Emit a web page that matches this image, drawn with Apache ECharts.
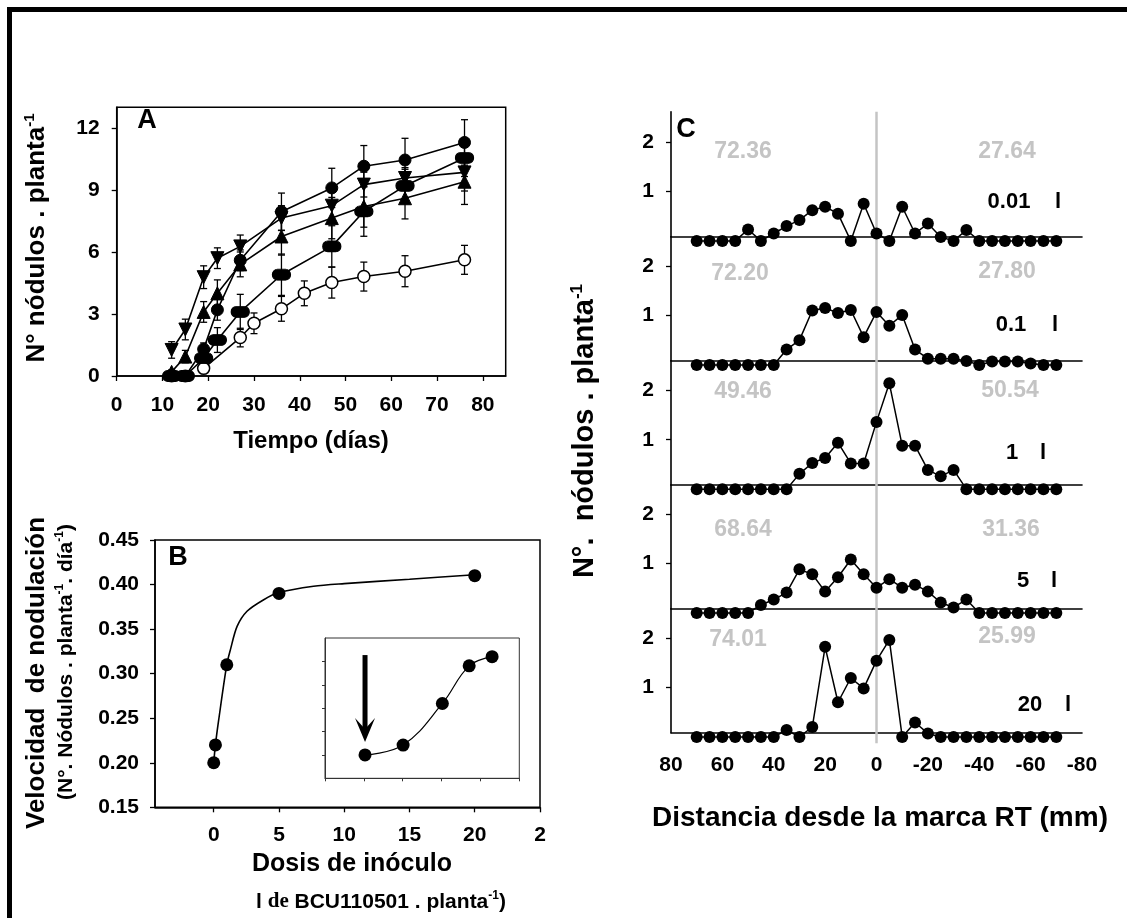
<!DOCTYPE html>
<html>
<head>
<meta charset="utf-8">
<script src="https://cdn.jsdelivr.net/npm/echarts@6/dist/echarts.min.js"></script>
<style>
html, body { margin: 0; padding: 0; background: #fff; }
#chart { width: 1127px; height: 918px; }
</style>
</head>
<body>
<div id="chart"></div>
<script>
// ---- Panel A: nódulos por planta en el tiempo ----
const diasA = [12, 15, 19, 22, 27, 36, 47, 54, 63, 76];
const circA = [0, 0, 1.3, 3.2, 5.6, 7.95, 9.1, 10.15, 10.45, 11.3];
const circAErr = [0, 0, 0.3, 0.5, 0.5, 0.9, 0.95, 1.0, 1.05, 1.1];
const downA = [1.26, 2.25, 4.78, 5.7, 6.27, 7.64, 8.24, 9.26, 9.58, 9.85];
const downAErr = [0.4, 0.5, 0.55, 0.5, 0.55, 0.6, 0.7, 0.6, 0.5, 0.9];
const upA = [0.2, 0.94, 3.1, 4.0, 5.4, 6.75, 7.64, 8.2, 8.6, 9.4];
const upAErr = [0.1, 0.3, 0.5, 0.65, 0.6, 0.9, 1.0, 1.0, 1.0, 1.1];
const capA = [0, 0, 0.86, 1.74, 3.1, 4.9, 6.27, 7.96, 9.2, 10.55];
const capAErr = [0, 0, 0.3, 0.6, 0.85, 1.0, 1.0, 1.2, 0.8, 0.9];
const diasOpen = [19, 27, 30, 36, 41, 47, 54, 63, 76];
const openA = [0.37, 1.86, 2.55, 3.25, 4.0, 4.52, 4.81, 5.07, 5.62];
const openAErr = [0.1, 0.45, 0.5, 0.6, 0.6, 0.75, 0.7, 0.75, 0.7];
const ticksAx = [0, 10, 20, 30, 40, 50, 60, 70, 80];
const ticksAy = [0, 3, 6, 9, 12];

// ---- Panel B: velocidad de nodulación vs dosis ----
const dosisB = [0, 0.13, 1, 5, 20];
const velB = [0.20, 0.22, 0.31, 0.39, 0.41];
// curva ajustada
const curvaBx = [0, 0.13, 0.38, 1.0, 1.28, 1.79, 2.55, 3.83, 5, 7.65, 10, 15, 20];
const curvaBy = [0.20, 0.22, 0.248, 0.31, 0.327, 0.353, 0.370, 0.383, 0.391, 0.398, 0.401, 0.406, 0.411];
const ticksBx = [0, 5, 10, 15, 20, 25];
const ticksBy = [0.15, 0.20, 0.25, 0.30, 0.35, 0.40, 0.45];
// recuadro
const insetX = [1.03, 2.01, 3.02, 3.71, 4.3];
const insetY = [1.0, 1.42, 3.2, 4.81, 5.2];

// ---- Panel C: distribución respecto a la marca RT ----
const distC = [70, 65, 60, 55, 50, 45, 40, 35, 30, 25, 20, 15, 10, 5, 0,
  -5, -10, -15, -20, -25, -30, -35, -40, -45, -50, -55, -60, -65, -70];
const c001 = [0, 0, 0, 0, 0.23, 0, 0.15, 0.30, 0.42, 0.62, 0.69, 0.55, 0, 0.75, 0.15,
  0, 0.69, 0.15, 0.35, 0.08, 0, 0.22, 0, 0, 0, 0, 0, 0, 0];
const c01 = [0, 0, 0, 0, 0, 0, 0, 0.31, 0.5, 1.1, 1.15, 1.05, 1.11, 0.56, 1.07,
  0.79, 1.01, 0.31, 0.125, 0.125, 0.125, 0.08, 0, 0.07, 0.07, 0.07, 0.03, 0, 0];
const c1 = [0, 0, 0, 0, 0, 0, 0, 0, 0.31, 0.53, 0.63, 0.94, 0.52, 0.52, 1.36,
  2.14, 0.88, 0.88, 0.39, 0.26, 0.39, 0, 0, 0, 0, 0, 0, 0, 0];
const c5 = [0, 0, 0, 0, 0, 0.16, 0.27, 0.41, 0.88, 0.78, 0.43, 0.72, 1.08, 0.78, 0.51,
  0.68, 0.51, 0.57, 0.43, 0.21, 0.11, 0.27, 0, 0, 0, 0, 0, 0, 0];
const c20 = [0, 0, 0, 0, 0, 0, 0, 0.14, 0, 0.2, 1.82, 0.7, 1.19, 0.98, 1.54,
  1.96, 0, 0.29, 0.07, 0, 0, 0, 0, 0, 0, 0, 0, 0, 0];
const seriesC = [c001, c01, c1, c5, c20];
const dosisC = ['0.01', '0.1', '1', '5', '20'];
const izqC = ['72.36', '72.20', '49.46', '68.64', '74.01'];
const derC = ['27.64', '27.80', '50.54', '31.36', '25.99'];

const FONT = '"Liberation Sans", Arial, Helvetica, sans-serif';
const SERIF = '"Liberation Serif", "Times New Roman", serif';

const chart = echarts.init(document.getElementById('chart'));

const zip = (xs, ys) => xs.map((x, i) => [x, ys[i]]);
const zipErr = (xs, ys, es) => xs.map((x, i) => [x, ys[i], es[i]]).filter(d => d[2] > 0);

// barras de error en coordenadas del eje
function errRender(params, api) {
  const x = api.value(0), y = api.value(1), e = api.value(2);
  const hi = api.coord([x, y + e]);
  const lo = api.coord([x, y - e]);
  const w = 3.5;
  const st = { stroke: '#000', lineWidth: 1.3 };
  return {
    type: 'group',
    children: [
      { type: 'line', shape: { x1: hi[0], y1: hi[1], x2: lo[0], y2: lo[1] }, style: st },
      { type: 'line', shape: { x1: hi[0] - w, y1: hi[1], x2: hi[0] + w, y2: hi[1] }, style: st },
      { type: 'line', shape: { x1: lo[0] - w, y1: lo[1], x2: lo[0] + w, y2: lo[1] }, style: st }
    ]
  };
}

function errSeries(data) {
  return {
    type: 'custom', xAxisIndex: 0, yAxisIndex: 0, z: 1,
    renderItem: errRender, data: data, encode: { x: 0, y: 1 }, silent: true
  };
}

function lineA(data, symbol, size, extra) {
  return Object.assign({
    type: 'line', xAxisIndex: 0, yAxisIndex: 0, data: data, z: 3,
    symbol: symbol, symbolSize: size, showAllSymbol: true,
    lineStyle: { color: '#000', width: 1.6 },
    itemStyle: { color: '#000', borderColor: '#000', borderWidth: 1, opacity: 1 },
    animation: false
  }, extra || {});
}

const tickLabel = { color: '#000', fontSize: 21, fontWeight: 'bold', fontFamily: FONT };
const axLine = { show: true, onZero: false, lineStyle: { color: '#000', width: 1.5 } };

// flecha del recuadro
function arrowRender(params, api) {
  const top = api.coord([api.value(0), api.value(1)]);
  const tip = api.coord([api.value(0), api.value(2)]);
  return {
    type: 'group',
    children: [
      { type: 'line', shape: { x1: top[0], y1: top[1], x2: tip[0], y2: tip[1] - 12 },
        style: { stroke: '#000', lineWidth: 5 } },
      { type: 'polygon', shape: { points: [[tip[0], tip[1]], [tip[0] - 10, tip[1] - 24],
        [tip[0], tip[1] - 13], [tip[0] + 10, tip[1] - 24]] }, style: { fill: '#000' } }
    ]
  };
}

// ---- rejillas del panel C ----
const baseC = [236.7, 360.7, 485, 608.7, 732.7];
const topC = [111.7, 236.7, 360.7, 485, 608.7];
const unitC = 49.5;
const minC = 0.085;

const grids = [
  { left: 116.7, top: 107.3, width: 389, height: 268.7, show: true, borderColor: '#000', borderWidth: 1.5 },
  { left: 155, top: 540, width: 385, height: 267.3, show: true, borderColor: '#000', borderWidth: 1.5 },
  { left: 325, top: 638, width: 194.3, height: 140.3, show: true, borderColor: '#333', borderWidth: 1, backgroundColor: '#fff' }
];
const xAxes = [
  { gridIndex: 0, type: 'value', min: 0, max: 85, axisLine: axLine,
    axisTick: { customValues: ticksAx, length: 5, lineStyle: { color: '#000', width: 1.3 } },
    axisLabel: Object.assign({ customValues: ticksAx, margin: 19 }, tickLabel), splitLine: { show: false } },
  { gridIndex: 1, type: 'value', min: -4.5, max: 25, axisLine: axLine,
    axisTick: { customValues: ticksBx, length: 5, lineStyle: { color: '#000', width: 1.3 } },
    axisLabel: Object.assign({ customValues: ticksBx, margin: 17,
      formatter: v => (v === 25 ? '2' : String(v)) }, tickLabel), splitLine: { show: false } },
  { gridIndex: 2, type: 'value', min: 0, max: 5,
    axisLine: { show: true, onZero: false, lineStyle: { color: '#333', width: 1 } },
    axisTick: { customValues: [0, 1, 2, 3, 4, 5], length: 3, lineStyle: { color: '#333' } },
    axisLabel: { show: false }, splitLine: { show: false } }
];
const yAxes = [
  { gridIndex: 0, type: 'value', min: 0, max: 13, axisLine: axLine,
    axisTick: { customValues: ticksAy, length: 5, lineStyle: { color: '#000', width: 1.3 } },
    axisLabel: Object.assign({ customValues: ticksAy, margin: 17 }, tickLabel), splitLine: { show: false } },
  { gridIndex: 1, type: 'value', min: 0.15, max: 0.45, axisLine: axLine,
    axisTick: { customValues: ticksBy, length: 5, lineStyle: { color: '#000', width: 1.3 } },
    axisLabel: Object.assign({ customValues: ticksBy, margin: 16, formatter: v => v.toFixed(2) }, tickLabel),
    splitLine: { show: false } },
  { gridIndex: 2, type: 'value', min: 0, max: 6,
    axisLine: { show: true, onZero: false, lineStyle: { color: '#333', width: 1 } },
    axisTick: { customValues: [1, 2, 3, 4, 5], length: 3, lineStyle: { color: '#333' } },
    axisLabel: { show: false }, splitLine: { show: false } }
];

const series = [
  errSeries(zipErr(diasA, circA, circAErr)),
  errSeries(zipErr(diasA, downA, downAErr)),
  errSeries(zipErr(diasA, upA, upAErr)),
  errSeries(zipErr(diasA, capA, capAErr)),
  errSeries(zipErr(diasOpen, openA, openAErr)),
  lineA(zip(diasOpen, openA), 'circle', 12, { itemStyle: { color: '#fff', borderColor: '#000', borderWidth: 1.5, opacity: 1 } }),
  lineA(zip(diasA, capA), 'path://M5,0 H13 A5,5 0 0 1 13,10 H5 A5,5 0 0 1 5,0 Z', [18, 11]),
  lineA(zip(diasA, upA), 'triangle', 13),
  lineA(zip(diasA, downA), 'triangle', 13, { symbolRotate: 180 }),
  lineA(zip(diasA, circA), 'circle', 12),
  // panel B
  { type: 'line', xAxisIndex: 1, yAxisIndex: 1, data: zip(curvaBx, curvaBy), smooth: 0.3,
    symbol: 'none', lineStyle: { color: '#000', width: 1.6 }, animation: false, z: 2 },
  { type: 'scatter', xAxisIndex: 1, yAxisIndex: 1, data: zip(dosisB, velB), symbol: 'circle',
    symbolSize: 13, itemStyle: { color: '#000', opacity: 1 }, animation: false, z: 3 },
  // recuadro
  { type: 'line', xAxisIndex: 2, yAxisIndex: 2, data: zip(insetX, insetY), smooth: 0.4,
    symbol: 'circle', symbolSize: 13, showAllSymbol: true,
    lineStyle: { color: '#000', width: 1.2 }, itemStyle: { color: '#000', opacity: 1 }, animation: false, z: 4 },
  { type: 'custom', xAxisIndex: 2, yAxisIndex: 2, renderItem: arrowRender,
    data: [[1.03, 5.27, 1.55]], encode: { x: 0, y: 1 }, silent: true, z: 5 }
];

seriesC.forEach((vals, i) => {
  const g = grids.length;
  const h = baseC[i] - topC[i];
  grids.push({ left: 671, top: topC[i], width: 411, height: h });
  xAxes.push({ gridIndex: g, type: 'value', min: -80, max: 80, interval: 20, inverse: true,
    axisLine: { show: true, onZero: false, lineStyle: { color: '#000', width: 1.6 } }, axisTick: { show: false },
    axisLabel: Object.assign({ show: i === seriesC.length - 1, margin: 22 }, tickLabel),
    splitLine: { show: false } });
  yAxes.push({ gridIndex: g, type: 'value', min: minC, max: minC + h / unitC,
    axisLine: { show: true, onZero: false, lineStyle: { color: '#000', width: 1.6 } },
    axisTick: { customValues: [1, 2], length: 5, lineStyle: { color: '#000', width: 1.3 } },
    axisLabel: Object.assign({ customValues: [1, 2], margin: 17 }, tickLabel), splitLine: { show: false } });
  series.push({ type: 'line', xAxisIndex: g, yAxisIndex: g, data: zip(distC, vals), clip: false,
    symbol: 'circle', symbolSize: 12, showAllSymbol: true,
    lineStyle: { color: '#000', width: 1.5 }, itemStyle: { color: '#000', opacity: 1 }, animation: false, z: 3 });
});

// línea gris de la marca RT (x = 0)
const gLine = grids.length;
grids.push({ left: 671, top: 111.7, width: 411, height: 631.6 });
xAxes.push({ gridIndex: gLine, type: 'value', min: -80, max: 80, inverse: true, show: false });
yAxes.push({ gridIndex: gLine, type: 'value', min: 0, max: 1, show: false });
series.push({ type: 'line', xAxisIndex: gLine, yAxisIndex: gLine, data: [[0, 0], [0, 1]],
  symbol: 'none', lineStyle: { color: '#c4c4c4', width: 2.5 }, animation: false, z: 1, silent: true });

// ---- textos ----
function txt(x, y, text, size, extra) {
  const el = {
    type: 'text', x: x, y: y, z: 100, silent: true,
    style: { text: text, fontSize: size, fontWeight: 'bold', fontFamily: FONT, fill: '#000',
      align: 'center', verticalAlign: 'middle', textAlign: 'center', textVerticalAlign: 'middle' }
  };
  if (extra && extra.style) Object.assign(el.style, extra.style);
  if (extra && extra.rotation) el.rotation = extra.rotation;
  return el;
}
function supRich(size) {
  return {
    m: { fontSize: size, fontWeight: 'bold', fontFamily: FONT, lineHeight: size + 4 },
    s: { fontSize: Math.round(size * 0.58), fontWeight: 'bold', fontFamily: FONT,
      verticalAlign: 'top', lineHeight: Math.round(size * 0.58) },
    t: { fontSize: size, fontWeight: 'bold', fontFamily: SERIF, lineHeight: size + 4 }
  };
}
const ROT = Math.PI / 2;

const graphics = [
  { type: 'rect', shape: { x: 9.5, y: 9.5, width: 1200, height: 1000 }, z: 100, silent: true,
    style: { fill: 'none', stroke: '#000', lineWidth: 5 } },
  txt(147, 121, 'A', 27),
  txt(178, 558, 'B', 27),
  txt(686, 130, 'C', 27),
  txt(37, 238, '{m|N° nódulos . planta}{s|-1}', 26, { rotation: ROT, style: { rich: supRich(26) } }),
  txt(311, 441, 'Tiempo (días)', 24),
  txt(37, 673, 'Velocidad  de nodulación', 26, { rotation: ROT }),
  txt(66, 662, '{m|(N°. Nódulos . planta}{s|-1}{m|. día}{s|-1}{m|)}', 21, { rotation: ROT, style: { rich: supRich(21) } }),
  txt(352, 864, 'Dosis de inóculo', 25),
  txt(381, 902, '{m|l }{t|de}{m| BCU110501 . planta}{s|-1}{m|)}', 21, { style: { rich: supRich(21) } }),
  txt(585, 431, '{m|N°.  nódulos . planta}{s|-1}', 29, { rotation: ROT, style: { rich: supRich(29) } }),
  txt(880, 818, 'Distancia desde la marca RT (mm)', 28)
];

// números grises y dosis por subpanel
const izqPos = [[743, 152], [740, 274], [743, 392], [743, 530], [738, 640]];
const derPos = [[1007, 152], [1007, 272], [1010, 391], [1011, 530], [1007, 637]];
const dosisPos = [[1009, 202], [1011, 325], [1012, 453], [1023, 581], [1030, 705]];
const elePos = [1058, 1055, 1043, 1054, 1068];
for (let i = 0; i < 5; i++) {
  graphics.push(txt(izqPos[i][0], izqPos[i][1], izqC[i], 23, { style: { fill: '#c4c4c4' } }));
  graphics.push(txt(derPos[i][0], derPos[i][1], derC[i], 23, { style: { fill: '#c4c4c4' } }));
  graphics.push(txt(dosisPos[i][0], dosisPos[i][1], dosisC[i], 22));
  graphics.push(txt(elePos[i], dosisPos[i][1], 'l', 22));
}

chart.setOption({
  backgroundColor: '#fff',
  animation: false,
  grid: grids,
  xAxis: xAxes,
  yAxis: yAxes,
  series: series,
  graphic: { elements: graphics }
});
</script>
</body>
</html>
